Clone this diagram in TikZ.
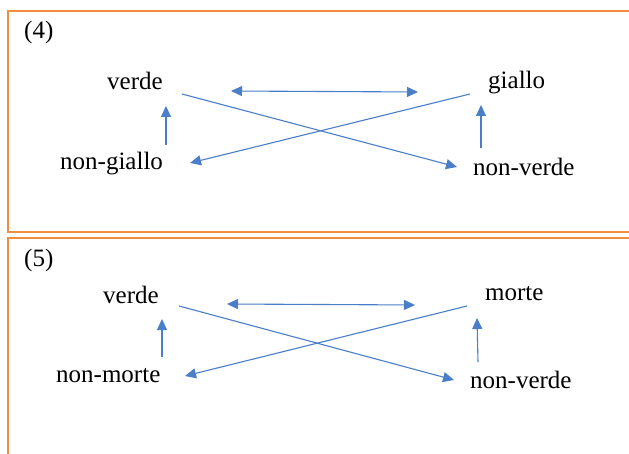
\documentclass[tikz,border=0pt]{standalone}
\usepackage{fontspec}
\setmainfont{Liberation Serif}
\usetikzlibrary{arrows.meta}
\definecolor{boxorange}{RGB}{240,142,62}
\definecolor{arrowblue}{RGB}{74,126,200}
\begin{document}
\begin{tikzpicture}[x=1pt,y=-1pt,
  lbl/.style={anchor=base west, inner sep=0pt, font=\fontsize{25}{30}\selectfont},
  frame/.style={draw=boxorange, line width=2.2pt},
  tip/.tip={Triangle[length=11pt,width=10pt]},
  conn/.style={draw=arrowblue, line width=1.1pt, -tip},
  both/.style={draw=arrowblue, line width=1.1pt, tip-tip}]
\useasboundingbox (0,0) rectangle (629,454);
\fill[white] (0,0) rectangle (629,454);
\clip (0,0) rectangle (629,454);
% frames
\draw[frame] (8,11) rectangle (660,232);
\draw[frame] (8,238) rectangle (660,480);
% ---- panel (4)
\node[lbl] (n4) at (24,39) {(4)};
\node[lbl] (av) at (107,90) {verde};
\node[lbl] (ang) at (60,170) {non-giallo};
\node[lbl] (ag) at (488,89) {giallo};
\node[lbl] (anv) at (473,176) {non-verde};
\coordinate (a1) at (231,91);
\coordinate (a2) at (418,92);
\coordinate (a3) at (182,94);
\coordinate (a4) at (457,167);
\coordinate (a5) at (470,94);
\coordinate (a6) at (190,163);
\coordinate (a7) at (166,145);
\coordinate (a8) at (166,106);
\coordinate (a9) at (481,148);
\coordinate (a10) at (481,105);
\draw[both] (a1) -- (a2);
\draw[conn] (a3) -- (a4);
\draw[conn] (a5) -- (a6);
\draw[conn] (a7) -- (a8);
\draw[conn] (a9) -- (a10);
% ---- panel (5)
\node[lbl] (n5) at (24,267) {(5)};
\node[lbl] (bv) at (103,303) {verde};
\node[lbl] (bnm) at (56,382) {non-morte};
\node[lbl] (bm) at (485,301) {morte};
\node[lbl] (bnv) at (470,388) {non-verde};
\coordinate (b1) at (227,304);
\coordinate (b2) at (415,305);
\coordinate (b3) at (179,306);
\coordinate (b4) at (454,380);
\coordinate (b5) at (467,306);
\coordinate (b6) at (185,376);
\coordinate (b7) at (162,357);
\coordinate (b8) at (162,319);
\coordinate (b9) at (478,362);
\coordinate (b10) at (477,318);
\draw[both] (b1) -- (b2);
\draw[conn] (b3) -- (b4);
\draw[conn] (b5) -- (b6);
\draw[conn] (b7) -- (b8);
\draw[conn] (b9) -- (b10);
\end{tikzpicture}
\end{document}
